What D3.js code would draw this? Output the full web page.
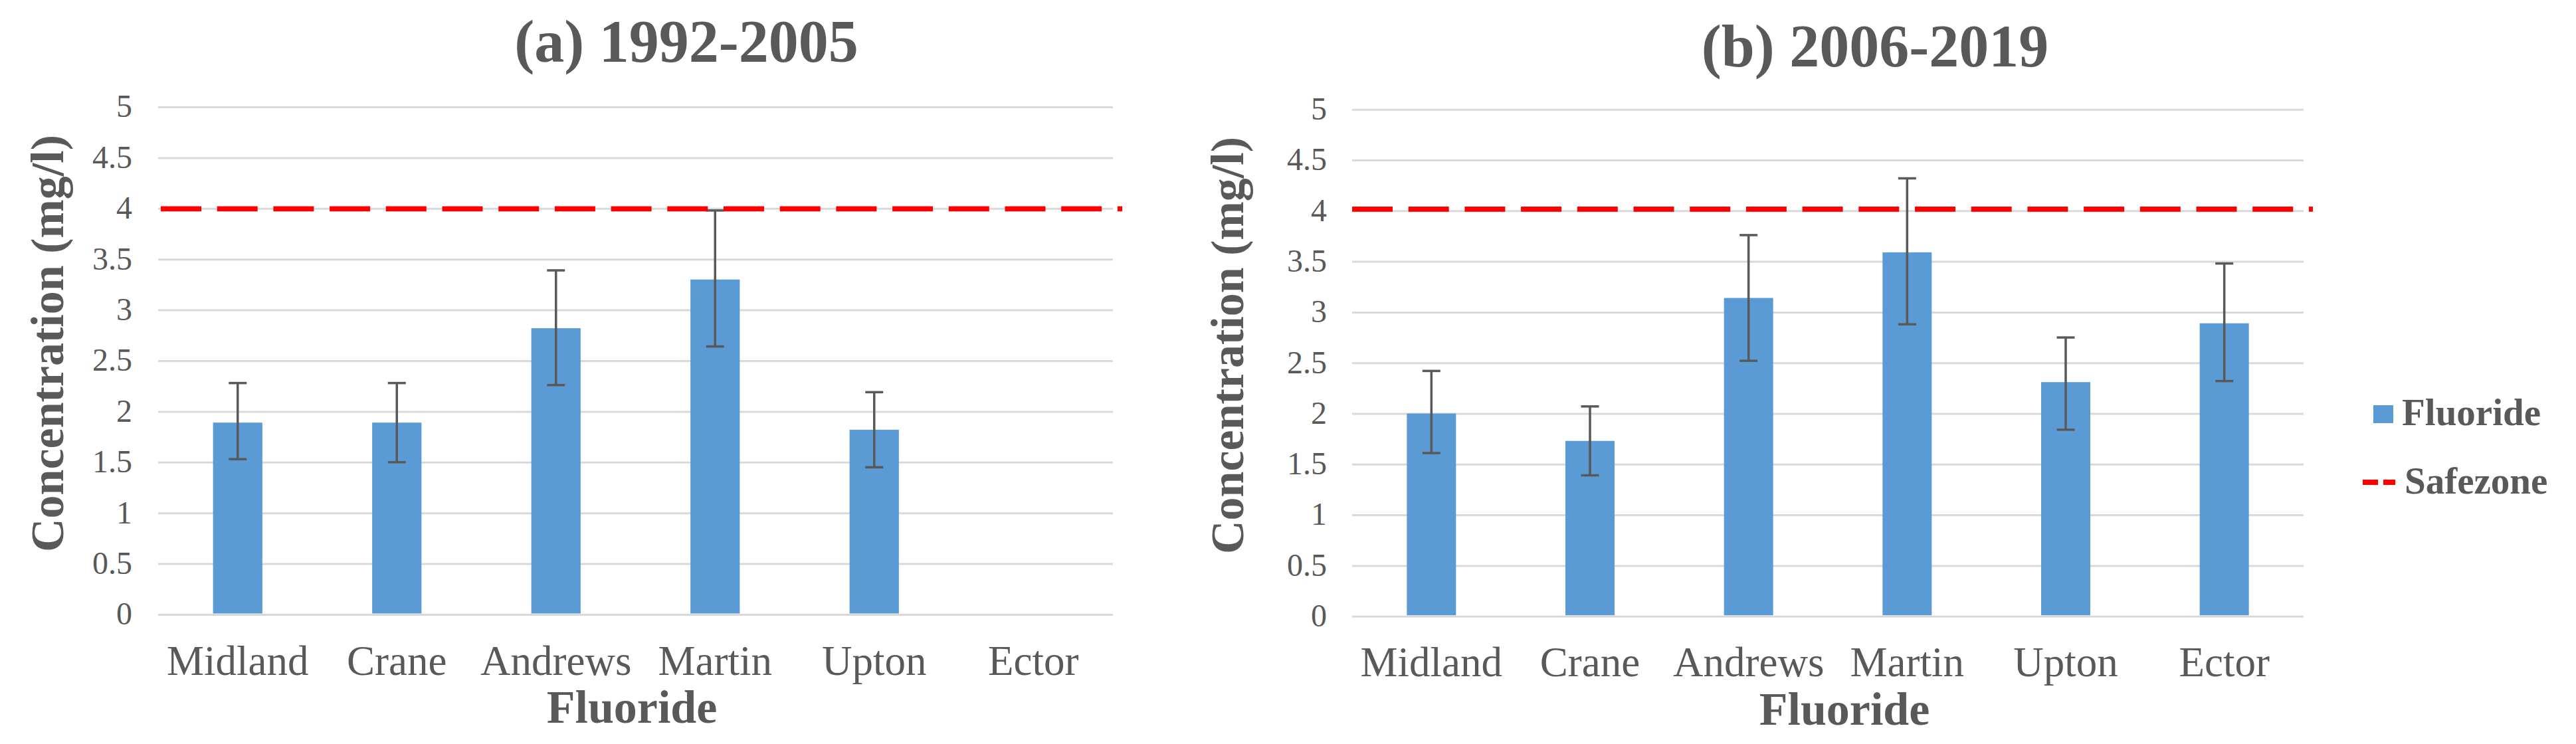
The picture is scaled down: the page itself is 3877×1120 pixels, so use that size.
<!DOCTYPE html>
<html>
<head>
<meta charset="utf-8">
<script src="https://cdn.jsdelivr.net/npm/d3@7"></script>
<style>
  html, body { margin: 0; padding: 0; background: #ffffff; }
  svg { display: block; }
  text { font-family: "Liberation Serif", "Times New Roman", serif; fill: #595959; }
</style>
</head>
<body>
<svg id="chart" width="3877" height="1120"></svg>
<script>
// ---- Data ----
const categories = ["Midland", "Crane", "Andrews", "Martin", "Upton", "Ector"];
const yTicks = [0, 0.5, 1, 1.5, 2, 2.5, 3, 3.5, 4, 4.5, 5];
const safezone = 4;

const titleA = "(a) 1992-2005";
const meanA = [1.89, 1.89, 2.82, 3.30, 1.82, null];
const lowA  = [1.53, 1.50, 2.26, 2.64, 1.45, null];
const highA = [2.28, 2.28, 3.39, 3.98, 2.19, null];

const titleB = "(b) 2006-2019";
const meanB = [2.00, 1.73, 3.14, 3.59, 2.31, 2.89];
const lowB  = [1.61, 1.39, 2.52, 2.88, 1.84, 2.32];
const highB = [2.42, 2.07, 3.76, 4.32, 2.75, 3.48];

const xTitle = "Fluoride";
const yTitle = "Concentration (mg/l)";
const legendLabels = ["Fluoride", "Safezone"];

// ---- Styles ----
const BAR = "#5B9BD5", GRID = "#D9D9D9", TXT = "#595959", ERR = "#595959", RED = "#FF0000";

const svg = d3.select("#chart");

function panel(cfg) {
  const g = svg.append("g");
  const x = d3.scaleBand().domain(categories).range([cfg.x0, cfg.x1])
    .paddingInner(0.69).paddingOuter(0.345);
  const y = d3.scaleLinear().domain([0, 5]).range([cfg.yb, cfg.yt]);

  // gridlines via axis
  const gridAxis = d3.axisLeft(y).tickValues(yTicks).tickSize(-(cfg.x1 - cfg.x0)).tickFormat("");
  const gg = g.append("g").attr("transform", `translate(${cfg.x0},0)`).call(gridAxis);
  gg.select(".domain").remove();
  gg.selectAll("line").attr("stroke", GRID).attr("stroke-width", 3);

  // y tick labels via axis
  const lab = d3.axisLeft(y).tickValues(yTicks).tickSize(0).tickPadding(0).tickFormat(d3.format("~g"));
  const lg = g.append("g").attr("transform", `translate(${cfg.labX},0)`).call(lab);
  lg.select(".domain").remove();
  lg.selectAll("text").attr("font-family", "Liberation Serif").attr("font-size", 48)
    .attr("fill", TXT).attr("dy", "0.31em");

  // x tick labels via axis
  const xa = d3.axisBottom(x).tickSize(0).tickPadding(0);
  const xg = g.append("g").attr("transform", `translate(0,${cfg.xLabBase})`).call(xa);
  xg.select(".domain").remove();
  xg.selectAll("text").attr("font-family", "Liberation Serif").attr("font-size", 63)
    .attr("fill", TXT).attr("dy", 0);

  // bars
  const data = categories.map((c, i) => ({ c, v: cfg.mean[i], lo: cfg.low[i], hi: cfg.high[i] }))
    .filter(d => d.v != null);
  const bw = x.bandwidth();
  g.selectAll("rect.bar").data(data).join("rect").attr("class", "bar")
    .attr("x", d => x(d.c)).attr("width", bw)
    .attr("y", d => y(d.v)).attr("height", d => y(0) - y(d.v) - 1.5)
    .attr("fill", BAR);

  // error bars
  const eg = g.append("g").attr("stroke", ERR).attr("stroke-width", 3.5);
  const cx = d => x(d.c) + bw / 2;
  eg.selectAll("line.v").data(data).join("line")
    .attr("x1", cx).attr("x2", cx).attr("y1", d => y(d.hi)).attr("y2", d => y(d.lo));
  eg.selectAll("line.t").data(data).join("line")
    .attr("x1", d => cx(d) - 13.5).attr("x2", d => cx(d) + 13.5)
    .attr("y1", d => y(d.hi)).attr("y2", d => y(d.hi));
  eg.selectAll("line.b").data(data).join("line")
    .attr("x1", d => cx(d) - 13.5).attr("x2", d => cx(d) + 13.5)
    .attr("y1", d => y(d.lo)).attr("y2", d => y(d.lo));

  // safezone line
  g.append("line")
    .attr("x1", cfg.x0 + cfg.dashOff).attr("x2", cfg.x1 + 14)
    .attr("y1", y(safezone) + cfg.redDy).attr("y2", y(safezone) + cfg.redDy)
    .attr("stroke", RED).attr("stroke-width", 7.7)
    .attr("stroke-dasharray", "61,23.7");

  // titles
  g.append("text").attr("x", cfg.titleX).attr("y", cfg.titleY)
    .attr("text-anchor", "middle").attr("font-size", 90).attr("font-weight", "bold")
    .attr("fill", TXT).text(cfg.title);
  g.append("text").attr("x", cfg.xTitleX).attr("y", cfg.xTitleY)
    .attr("text-anchor", "middle").attr("font-size", 70).attr("font-weight", "bold")
    .attr("fill", TXT).text(xTitle);
  g.append("text")
    .attr("transform", `translate(${cfg.yTitleX},${cfg.yTitleY}) rotate(-90)`)
    .attr("text-anchor", "middle").attr("font-size", 70).attr("font-weight", "bold")
    .attr("fill", TXT).text(yTitle);
}

panel({ x0: 238, x1: 1675, yb: 925, yt: 161, labX: 199, xLabBase: 1016,
  mean: meanA, low: lowA, high: highA, title: titleA, titleX: 1033, titleY: 93,
  xTitleX: 951, xTitleY: 1088, yTitleX: 95, yTitleY: 517, dashOff: 4, redDy: 0.5 });

panel({ x0: 2035, x1: 3467, yb: 927.7, yt: 164.7, labX: 1997, xLabBase: 1018,
  mean: meanB, low: lowB, high: highB, title: titleB, titleX: 2822, titleY: 100,
  xTitleX: 2776, xTitleY: 1091, yTitleX: 1871, yTitleY: 520, dashOff: 0, redDy: -2.5 });

// legend
const leg = svg.append("g");
leg.append("rect").attr("x", 3572).attr("y", 610).attr("width", 30).attr("height", 27).attr("fill", BAR);
leg.append("text").attr("x", 3615).attr("y", 640).attr("font-size", 57).attr("font-weight", "bold")
  .attr("fill", TXT).text(legendLabels[0]);
leg.append("line").attr("x1", 3556).attr("x2", 3605).attr("y1", 726).attr("y2", 726)
  .attr("stroke", RED).attr("stroke-width", 8).attr("stroke-dasharray", "23,8");
leg.append("text").attr("x", 3619).attr("y", 743).attr("font-size", 57).attr("font-weight", "bold")
  .attr("fill", TXT).text(legendLabels[1]);
</script>
</body>
</html>
